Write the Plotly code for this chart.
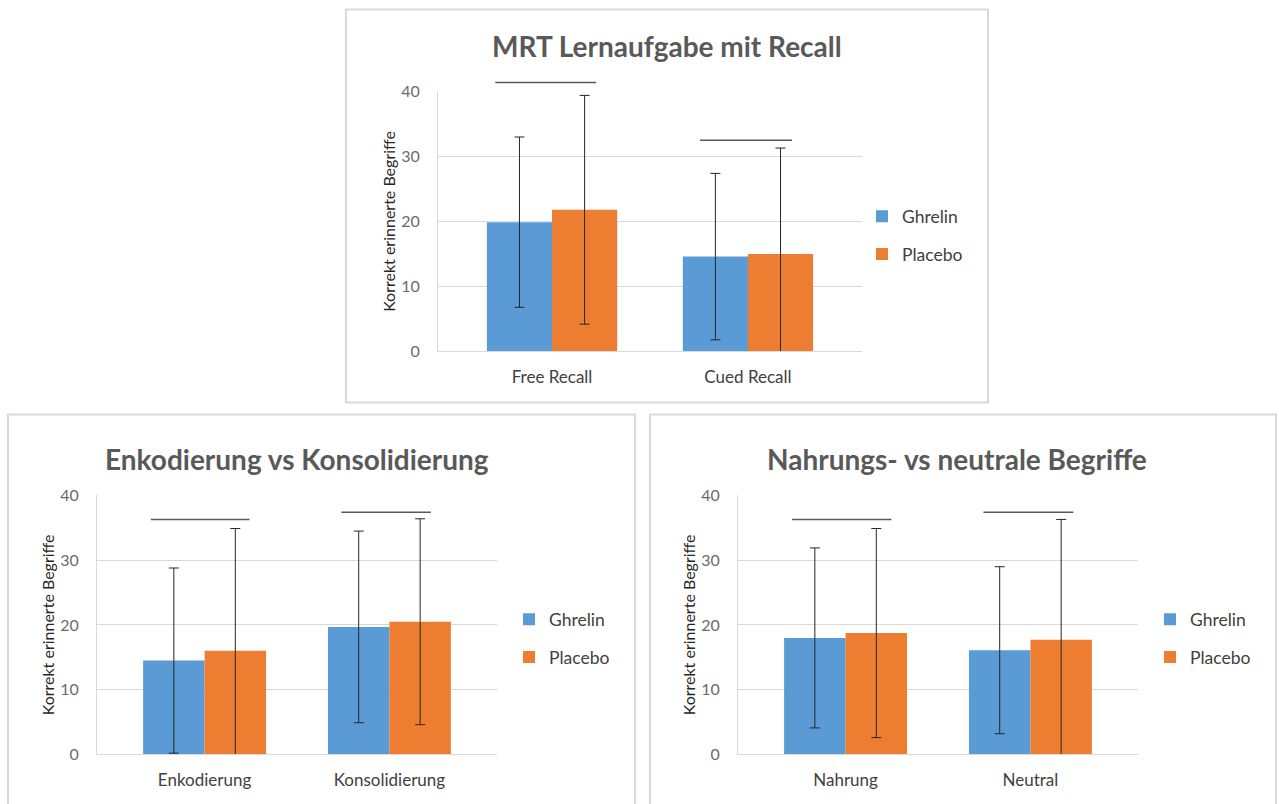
import plotly.graph_objects as go

# ---------------- data ----------------
series_names = ["Ghrelin", "Placebo"]

top_title = "MRT Lernaufgabe mit Recall"
top_categories = ["Free Recall", "Cued Recall"]
top_ghrelin = [19.9, 14.6]
top_ghrelin_err = [13.1, 12.8]
top_placebo = [21.8, 15.0]
top_placebo_err = [17.6, 16.3]
top_sig = [(-0.29, 0.225, 41.4), (0.755, 1.225, 32.5)]

bl_title = "Enkodierung vs Konsolidierung"
bl_categories = ["Enkodierung", "Konsolidierung"]
bl_ghrelin = [14.5, 19.7]
bl_ghrelin_err = [14.3, 14.8]
bl_placebo = [16.0, 20.5]
bl_placebo_err = [18.9, 15.9]
bl_sig = [(-0.29, 0.243, 36.3), (0.74, 1.224, 37.4)]

br_title = "Nahrungs- vs neutrale Begriffe"
br_categories = ["Nahrung", "Neutral"]
br_ghrelin = [18.0, 16.1]
br_ghrelin_err = [13.9, 12.9]
br_placebo = [18.75, 17.7]
br_placebo_err = [16.15, 18.6]
br_sig = [(-0.29, 0.248, 36.3), (0.746, 1.232, 37.4)]

y_title = "Korrekt erinnerte Begriffe"
y_ticks = [0, 10, 20, 30, 40]

# ---------------- style ----------------
W, H = 1279, 824
FONT = "Lato"
C_GHRELIN = "#5B9BD5"
C_PLACEBO = "#ED7D31"
GRID = "#d9d9d9"
XRANGE = [-0.582, 1.582]
YRANGE = [0, 40]
# vertical calibration of the capture (measured): shown_y = OFF + K * page_y
OFF, K = 8.5, 0.977


def px_x(a, b):
    return [a / W, b / W]


def py(y):
    """target screen y (px) -> paper fraction"""
    return 1 - ((y - OFF) / K) / H


def px_y(top, bottom):
    return [py(bottom), py(top)]


panels = [
    dict(title=top_title, cats=top_categories, g=top_ghrelin, ge=top_ghrelin_err,
         p=top_placebo, pe=top_placebo_err, sig=top_sig,
         xd=px_x(438, 862), yd=px_y(90, 350), box=(346, 8, 988, 401),
         title_xy=(667, 45), legend_xy=(862, 234), ax="", leg="legend"),
    dict(title=bl_title, cats=bl_categories, g=bl_ghrelin, ge=bl_ghrelin_err,
         p=bl_placebo, pe=bl_placebo_err, sig=bl_sig,
         xd=px_x(97, 497), yd=px_y(494, 753), box=(8, 413, 635, 840),
         title_xy=(297, 458), legend_xy=(509, 637), ax="2", leg="legend2"),
    dict(title=br_title, cats=br_categories, g=br_ghrelin, ge=br_ghrelin_err,
         p=br_placebo, pe=br_placebo_err, sig=br_sig,
         xd=px_x(738, 1138), yd=px_y(494, 753), box=(650, 413, 1276, 840),
         title_xy=(957, 458), legend_xy=(1150, 637), ax="3", leg="legend3"),
]

fig = go.Figure()
shapes = []
annotations = []
layout_extra = {}

for i, pn in enumerate(panels):
    ax = pn["ax"]
    xa, ya = "x" + ax, "y" + ax
    for name, vals, errs, col in [
        (series_names[0], pn["g"], pn["ge"], C_GHRELIN),
        (series_names[1], pn["p"], pn["pe"], C_PLACEBO),
    ]:
        fig.add_trace(go.Bar(
            x=pn["cats"], y=vals, name=name, marker=dict(color=col, line=dict(width=0)),
            error_y=dict(type="data", array=errs, visible=True, color="#262626",
                         thickness=1, width=5),
            xaxis=xa, yaxis=ya, legend=pn["leg"], legendgroup=name + ax,
        ))

    key = "" if ax == "" else ax
    layout_extra["xaxis" + key] = dict(
        domain=pn["xd"], anchor=ya, range=XRANGE, type="category",
        showgrid=False, zeroline=False, showline=True, linecolor=GRID, linewidth=1,
        ticks="", tickfont=dict(family=FONT, size=17, color="#404040"),
        ticklabelstandoff=10, fixedrange=True,
    )
    layout_extra["yaxis" + key] = dict(
        domain=pn["yd"], anchor=xa, range=YRANGE, tickvals=y_ticks,
        showgrid=True, gridcolor=GRID, gridwidth=1, zeroline=False,
        showline=True, linecolor=GRID, linewidth=1, ticks="",
        tickfont=dict(family=FONT, size=16, color="#6b6b6b"),
        ticklabelstandoff=14,
        title=dict(text=y_title, font=dict(family=FONT, size=16, color="#262626"), standoff=1),
        fixedrange=True,
    )
    lx, ly = pn["legend_xy"]
    layout_extra[pn["leg"]] = dict(
        x=lx / W, y=py(ly), xanchor="left", yanchor="middle",
        font=dict(family=FONT, size=17.5, color="#404040"),
        traceorder="grouped", tracegroupgap=12, bgcolor="rgba(0,0,0,0)",
        itemclick=False, itemdoubleclick=False,
    )

    # panel border
    x0, y0, x1, y1 = pn["box"]
    shapes.append(dict(type="rect", xref="paper", yref="paper",
                       x0=x0 / W, x1=x1 / W, y0=py(y1), y1=py(y0),
                       line=dict(color="#d9d9d9", width=2), fillcolor="rgba(0,0,0,0)",
                       layer="below"))
    # significance lines (data units -> axis domain fractions)
    span = XRANGE[1] - XRANGE[0]
    for (sx0, sx1, sy) in pn["sig"]:
        yf = (sy - YRANGE[0]) / (YRANGE[1] - YRANGE[0])
        shapes.append(dict(type="line", xref=xa + " domain", yref=ya + " domain",
                           x0=(sx0 - XRANGE[0]) / span, x1=(sx1 - XRANGE[0]) / span,
                           y0=yf, y1=yf, line=dict(color="#595959", width=1.5)))
    tx, ty = pn["title_xy"]
    annotations.append(dict(text="<b>" + pn["title"] + "</b>", xref="paper", yref="paper",
                            x=tx / W, y=py(ty), xanchor="center", yanchor="middle",
                            showarrow=False,
                            font=dict(family=FONT, size=28, color="#595959")))

fig.update_layout(
    width=W, height=H, margin=dict(l=0, r=0, t=0, b=0, pad=0),
    paper_bgcolor="white", plot_bgcolor="white",
    barmode="group", bargap=0.335, bargroupgap=0,
    shapes=shapes, annotations=annotations, showlegend=True,
    **layout_extra,
)

post = ("var g=document.getElementById('{plot_id}');"
        "g.style.position='fixed';g.style.top='0px';g.style.left='0px';"
        "document.documentElement.style.margin='0';document.documentElement.style.padding='0';"
        "document.body.style.margin='0';document.body.style.padding='0';"
        "document.documentElement.style.overflow='hidden';document.body.style.overflow='hidden';")
fig.write_html("out.html", config={"displayModeBar": False}, post_script=post)
